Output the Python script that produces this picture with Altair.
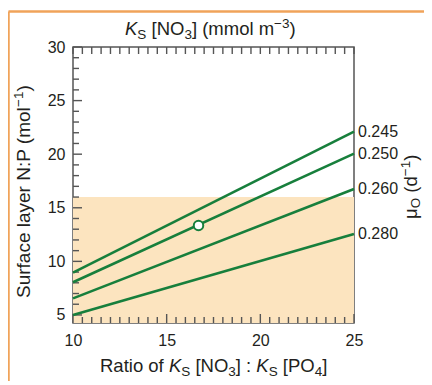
import altair as alt
import pandas as pd

# ---------------- data ----------------
series = ["0.245", "0.250", "0.260", "0.280"]
x_ends = [10, 25]
y_start = [8.95, 8.05, 6.55, 5.0]
y_end = [22.1, 20.05, 16.75, 12.55]
marker_x = [16.7]
marker_y = [13.35]
shade_top = [16]
x_tick_labels = [10, 15, 20, 25]
y_tick_labels = [5, 10, 15, 20, 25, 30]
x_minor = [10 + 0.5 * i for i in range(31)]
y_minor = [5 + i for i in range(26)]

W, H = 281, 276
FONT = "Liberation Sans"
TXT = "#231f20"
GREEN = "#177f3c"
AX = "#555555"

xs = alt.Scale(domain=[10, 25], nice=False, zero=False)
ys = alt.Scale(domain=[4.25, 30], nice=False, zero=False)
xaxis = alt.Axis(values=x_tick_labels, title=None, grid=False, domain=False, ticks=False,
                 tickSize=0, labelPadding=9, labelFontSize=16, labelFont=FONT, labelColor=TXT,
                 labelFlush=False)
yaxis = alt.Axis(values=y_tick_labels, title=None, grid=False, domain=False, ticks=False,
                 tickSize=0, labelPadding=8, labelFontSize=16, labelFont=FONT, labelColor=TXT,
                 labelFlush=False)
X = alt.X("x:Q", scale=xs, axis=xaxis)
Y = alt.Y("y:Q", scale=ys, axis=yaxis)

rows = []
for s, a, b in zip(series, y_start, y_end):
    rows.append({"s": s, "x": x_ends[0], "y": a})
    rows.append({"s": s, "x": x_ends[1], "y": b})
lines_df = pd.DataFrame(rows)
ends_df = pd.DataFrame({"s": series, "x": [x_ends[1]] * 4, "y": y_end})

shade = alt.Chart(pd.DataFrame({"x": [10], "x2": [25], "y": shade_top, "y2": [4.25]})).mark_rect(
    color="#fce4bf").encode(x=X, x2="x2:Q", y=Y, y2="y2:Q")

lines = alt.Chart(lines_df).mark_line(color=GREEN, strokeWidth=2.6).encode(x=X, y=Y, detail="s:N")

marker = alt.Chart(pd.DataFrame({"x": marker_x, "y": marker_y})).mark_point(
    shape="circle", filled=True, fill="white", stroke=GREEN, strokeWidth=2, size=90, opacity=1
).encode(x=X, y=Y)

end_labels = alt.Chart(ends_df).mark_text(
    align="left", baseline="middle", dx=4, fontSize=16, font=FONT, color=TXT
).encode(x=X, y=Y, text="s:N")

def tick_layer(vals, major_every, axis_name, side):
    df = pd.DataFrame({axis_name: vals})
    df["major"] = [(v % major_every) == 0 for v in vals]
    layers = []
    for is_major in (False, True):
        sub = df[df["major"] == is_major]
        if side == "bottom":
            ln = 9 if is_major else 6
            enc = dict(x=X, y=alt.value(H), y2=alt.value(H - ln))
        elif side == "top":
            enc = dict(x=X, y=alt.value(0), y2=alt.value(7))
        else:
            ln = 9 if is_major else 6
            enc = dict(y=Y, x=alt.value(0), x2=alt.value(ln))
        layers.append(alt.Chart(sub).mark_rule(color=AX, strokeWidth=1.4).encode(**enc))
    return layers

ticks = (tick_layer(x_minor, 5, "x", "bottom") + tick_layer(x_minor, 5, "x", "top")
         + tick_layer(y_minor, 5, "y", "left"))

# ---------------- rich-text titles ----------------
CW = {" ": 278, "(": 333, ")": 333, "[": 278, "]": 278, ":": 278, ".": 278,
      "R": 722, "a": 556, "t": 278, "i": 222, "o": 556, "f": 278, "K": 667, "S": 667,
      "N": 722, "O": 778, "P": 667, "m": 833, "l": 222, "−": 584, "u": 556, "r": 333,
      "c": 500, "e": 556, "y": 500, "d": 556, "μ": 576, "1": 556, "3": 556, "4": 556}

def tw(t, size):
    return sum(CW.get(c, 556) for c in t) * size / 1000.0

def rich(pieces, x0, y0, angle=0):
    out = []
    cum = 0.0
    for text, size, italic, shift in pieces:
        lead = tw(text[: len(text) - len(text.lstrip(" "))], size)
        shown = text.strip(" ")
        if angle == 0:
            px, py = x0 + cum + lead, y0 + shift
        else:  # 270: text runs upward
            px, py = x0 + shift, y0 - cum - lead
        kw = dict(align="left", baseline="alphabetic", fontSize=size, font=FONT, color=TXT)
        if italic:
            kw["fontStyle"] = "italic"
        if angle:
            kw["angle"] = angle
        out.append(alt.Chart(pd.DataFrame({"t": [shown]})).mark_text(**kw).encode(
            text="t:N", x=alt.value(px), y=alt.value(py)))
        cum += tw(text, size)
    return out

B, S = 18.5, 13.5
top_title = rich([("K", B, True, 0), ("S", S, False, 4), (" [NO", B, False, 0), ("3", S, False, 4),
                  ("] (mmol m", B, False, 0), ("−3", S, False, -7), (")", B, False, 0)], 52, -12)
bottom_title = rich([("Ratio of ", B, False, 0), ("K", B, True, 0), ("S", S, False, 4),
                     (" [NO", B, False, 0), ("3", S, False, 4), ("] : ", B, False, 0),
                     ("K", B, True, 0), ("S", S, False, 4), (" [PO", B, False, 0),
                     ("4", S, False, 4), ("]", B, False, 0)], 27, 325)
left_title = rich([("Surface layer N:P (mol", 19, False, 0), ("−1", S, False, -7), (")", 19, False, 0)],
                  -43, 251, angle=270)
right_title = rich([("μ", B, False, 0), ("O", S, False, 3), (" (d", B, False, 0),
                    ("−1", S, False, -7), (")", B, False, 0)], 344, 172, angle=270)

frame_df = pd.DataFrame({"k": [0]})
frame_top = alt.Chart(frame_df).mark_rule(color="#f0a35a", strokeWidth=2.5).encode(
    x=alt.value(-64.5), x2=alt.value(W + 70), y=alt.value(-35.5))
frame_left = alt.Chart(frame_df).mark_rule(color="#f0a35a", strokeWidth=2.5).encode(
    x=alt.value(-64.5), y=alt.value(-35.5), y2=alt.value(H + 60))

chart = alt.layer(
    shade, *ticks, lines, marker, end_labels, *top_title, *bottom_title, *left_title, *right_title,
    frame_top, frame_left
).properties(
    width=W, height=H,
    autosize=alt.AutoSizeParams(type="none"),
    padding={"left": 65, "top": 39, "right": 70, "bottom": 58},
).configure_view(stroke=AX, strokeWidth=1.5)

chart.save("out.html", embed_options={"renderer": "svg", "actions": False})
